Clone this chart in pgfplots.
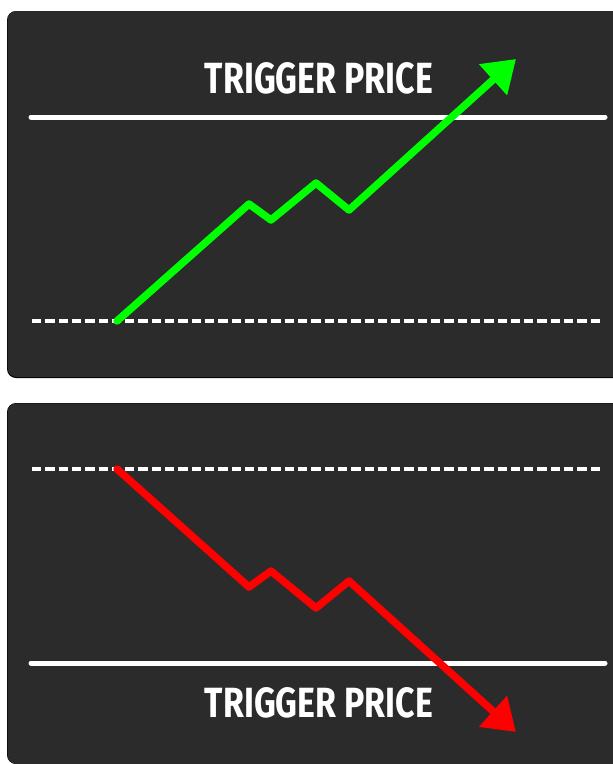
\documentclass[border=0pt]{standalone}
\usepackage{pgfplots}
\pgfplotsset{compat=1.18}
\usepackage{graphicx}
\usepackage{fontspec}
\setmainfont{Fira Sans}
\usetikzlibrary{arrows.meta}
\definecolor{panel}{HTML}{2B2B2B}
\definecolor{upgreen}{HTML}{00FF00}
\definecolor{downred}{HTML}{FF0000}
\begin{document}
\begin{tikzpicture}
\begin{axis}[
  width=613pt, height=764pt, scale only axis,
  xmin=0, xmax=613, ymin=0, ymax=764, y dir=reverse,
  axis lines=none, clip=false, no markers,
]
% backgrounds
\fill[white] (0,0) rectangle (613,764);
\fill[black] (613,11) [rounded corners=9pt] -- (7,11) -- (7,378) [sharp corners] -- (613,378) -- cycle;
\fill[panel] (613,11) [rounded corners=9pt] -- (7.6,11) -- (7.6,377) [sharp corners] -- (613,377) -- cycle;
\fill[black] (613,403) [rounded corners=9pt] -- (7,403) -- (7,764) [sharp corners] -- (613,764) -- cycle;
\fill[panel] (613,403.3) [rounded corners=9pt] -- (7.6,403.3) -- (7.6,764) [sharp corners] -- (613,764) -- cycle;

% top panel
\addplot[white, line width=5pt, line cap=round] coordinates {(31,117) (605,117)};
\addplot[white, line width=3.5pt, dash pattern=on 9.3pt off 4pt] coordinates {(32,321) (602,321)};
\addplot[upgreen, line width=7.5pt, line join=round, line cap=round,
  -{Triangle[length=31pt,width=40pt]}]
  coordinates {(117,321) (249,204) (271,220) (316,183) (349,210) (516,59)};
\node[white, inner sep=0pt, anchor=center] at (axis cs:319,78)
  {\resizebox{228pt}{31pt}{\bfseries TRIGGER PRICE}};

% bottom panel
\addplot[white, line width=3.5pt, dash pattern=on 9.3pt off 4pt] coordinates {(32,469) (602,469)};
\addplot[white, line width=5pt, line cap=round] coordinates {(31,663) (605,663)};
\addplot[downred, line width=7.5pt, line join=round, line cap=round,
  -{Triangle[length=31pt,width=40pt]}]
  coordinates {(117,469) (249,587) (271,571) (316,608) (349,581) (516,732)};
\node[white, inner sep=0pt, anchor=center] at (axis cs:319,703)
  {\resizebox{228pt}{30pt}{\bfseries TRIGGER PRICE}};
\end{axis}
\end{tikzpicture}
\end{document}
